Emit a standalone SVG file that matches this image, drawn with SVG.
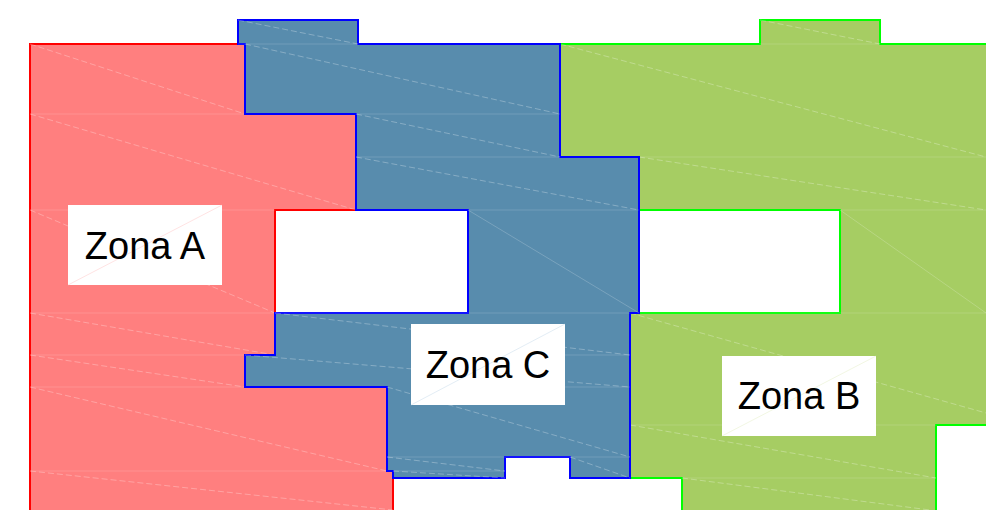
<svg xmlns="http://www.w3.org/2000/svg" width="986" height="510" viewBox="0 0 986 510">
  <style>
    .zone { stroke-width: 2; stroke-linejoin: miter; }
    .za { fill: #ff7f7f; stroke: #ff0000; }
    .zb { fill: #a6cd63; stroke: #00ff00; fill-rule: evenodd; }
    .zc { fill: #588cad; stroke: #0000ff; }
    .mesh line { stroke: #ffffff; stroke-width: 1; }
    .mesh .h { stroke-opacity: 0.15; }
    .mesh .d { stroke-opacity: 0.28; stroke-dasharray: 6 3; }
    .mesh .s { stroke-opacity: 0.2; }
    .tag { fill: #ffffff; }
    .tag-diag { stroke-width: 1; stroke-opacity: 0.5; }
    .label { font-family: "Liberation Sans", Arial, sans-serif; font-size: 38px; fill: #000000; text-anchor: middle; }
  </style>

  <!-- Zone A (red) -->
  <g id="zona-a">
    <polygon class="zone za" points="30,44 245,44 245,114 356,114 356,210 275,210 275,355 245,355 245,387 387,387 387,471 393,471 393,512 30,512"/>
    <g class="mesh">
      <line class="h" x1="30" y1="114" x2="245" y2="114"/>
      <line class="h" x1="30" y1="210" x2="275" y2="210"/>
      <line class="h" x1="30" y1="313" x2="275" y2="313"/>
      <line class="h" x1="30" y1="355" x2="245" y2="355"/>
      <line class="h" x1="30" y1="387" x2="245" y2="387"/>
      <line class="h" x1="30" y1="471" x2="387" y2="471"/>
      <line class="d" x1="30" y1="44" x2="245" y2="114"/>
      <line class="d" x1="30" y1="114" x2="356" y2="210"/>
      <line class="d" x1="30" y1="210" x2="275" y2="313"/>
      <line class="d" x1="30" y1="313" x2="275" y2="355"/>
      <line class="d" x1="30" y1="355" x2="245" y2="387"/>
      <line class="d" x1="30" y1="387" x2="387" y2="471"/>
      <line class="d" x1="30" y1="471" x2="393" y2="510"/>
    </g>
    <rect class="tag" x="68" y="205" width="154" height="80"/>
    <line class="tag-diag" x1="68" y1="285" x2="222" y2="205" stroke="#ffc8c8"/>
    <text class="label" x="145" y="259">Zona A</text>
  </g>

  <!-- Zone B (green) -->
  <g id="zona-b">
    <path class="zone zb" d="M560,44 H760 V20 H880 V44 H988 V425 H936 V512 H682 V478 H630 V313 H639 V157 H560 Z M639,210 H840 V313 H639 Z"/>
    <g class="mesh">
      <line class="h" x1="760" y1="44" x2="880" y2="44"/>
      <line class="h" x1="639" y1="157" x2="986" y2="157"/>
      <line class="h" x1="840" y1="210" x2="986" y2="210"/>
      <line class="h" x1="639" y1="313" x2="986" y2="313"/>
      <line class="h" x1="630" y1="425" x2="936" y2="425"/>
      <line class="h" x1="682" y1="478" x2="936" y2="478"/>
      <line class="d" x1="760" y1="20" x2="880" y2="44"/>
      <line class="d" x1="560" y1="44" x2="986" y2="157"/>
      <line class="d" x1="639" y1="157" x2="986" y2="210"/>
      <line class="s" x1="840" y1="210" x2="986" y2="313"/>
      <line class="d" x1="630" y1="313" x2="986" y2="413"/>
      <line class="d" x1="630" y1="425" x2="936" y2="478"/>
      <line class="d" x1="682" y1="478" x2="930" y2="510"/>
    </g>
    <rect class="tag" x="722" y="356" width="154" height="80"/>
    <line class="tag-diag" x1="722" y1="436" x2="876" y2="356" stroke="#e6efc8"/>
    <text class="label" x="799" y="409">Zona B</text>
  </g>

  <!-- Zone C (blue) -->
  <g id="zona-c">
    <polygon class="zone zc" points="238,20 358,20 358,44 560,44 560,157 639,157 639,313 630,313 630,478 570,478 570,457 505,457 505,478 393,478 393,471 387,471 387,387 245,387 245,355 275,355 275,313 468,313 468,210 356,210 356,114 245,114 245,44 238,44"/>
    <g class="mesh">
      <line class="h" x1="238" y1="44" x2="358" y2="44"/>
      <line class="h" x1="356" y1="114" x2="560" y2="114"/>
      <line class="h" x1="356" y1="157" x2="560" y2="157"/>
      <line class="h" x1="468" y1="210" x2="639" y2="210"/>
      <line class="h" x1="275" y1="313" x2="630" y2="313"/>
      <line class="h" x1="565" y1="355" x2="630" y2="355"/>
      <line class="h" x1="565" y1="387" x2="630" y2="387"/>
      <line class="h" x1="387" y1="457" x2="630" y2="457"/>
      <line class="h" x1="393" y1="471" x2="505" y2="471"/>
      <line class="d" x1="238" y1="20" x2="358" y2="44"/>
      <line class="d" x1="245" y1="44" x2="560" y2="114"/>
      <line class="d" x1="356" y1="114" x2="560" y2="157"/>
      <line class="d" x1="356" y1="157" x2="639" y2="210"/>
      <line class="s" x1="468" y1="210" x2="639" y2="313"/>
      <line class="d" x1="275" y1="313" x2="630" y2="355"/>
      <line class="d" x1="245" y1="355" x2="630" y2="387"/>
      <line class="d" x1="387" y1="387" x2="630" y2="457"/>
      <line class="d" x1="387" y1="457" x2="505" y2="471"/>
      <line class="d" x1="393" y1="471" x2="505" y2="478"/>
      <line class="d" x1="570" y1="457" x2="630" y2="478"/>
    </g>
    <rect class="tag" x="411" y="324" width="154" height="81"/>
    <line class="tag-diag" x1="411" y1="405" x2="565" y2="324" stroke="#c8dcec"/>
    <text class="label" x="488" y="378">Zona C</text>
  </g>
</svg>
